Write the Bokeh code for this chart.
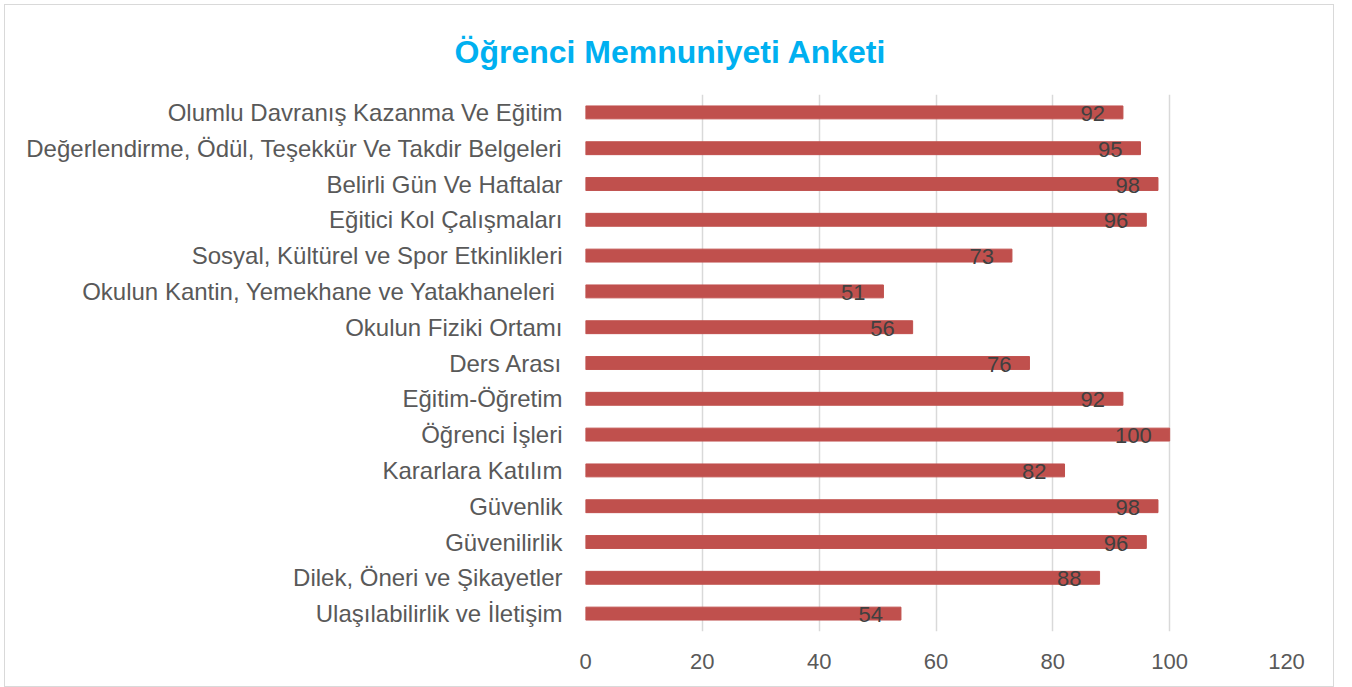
from bokeh.plotting import figure
from bokeh.models import ColumnDataSource, Title, FactorRange, Range1d, SingleIntervalTicker
from bokeh.core.properties import value
from bokeh.embed import file_html
from bokeh.resources import INLINE

categories = [
    "Olumlu Davranış Kazanma Ve Eğitim",
    "Değerlendirme, Ödül, Teşekkür Ve Takdir Belgeleri",
    "Belirli Gün Ve Haftalar",
    "Eğitici Kol Çalışmaları",
    "Sosyal, Kültürel ve Spor Etkinlikleri",
    "Okulun Kantin, Yemekhane ve Yatakhaneleri ",
    "Okulun Fiziki Ortamı",
    "Ders Arası",
    "Eğitim-Öğretim",
    "Öğrenci İşleri",
    "Kararlara Katılım",
    "Güvenlik",
    "Güvenilirlik",
    "Dilek, Öneri ve Şikayetler",
    "Ulaşılabilirlik ve İletişim",
]
values = [92, 95, 98, 96, 73, 51, 56, 76, 92, 100, 82, 98, 96, 88, 54]
title_text = "Öğrenci Memnuniyeti Anketi"

src = ColumnDataSource(dict(cat=categories, val=values, lab=[str(v) for v in values]))

FONT = "Liberation Sans"

p = figure(
    width=1330, height=683,
    y_range=FactorRange(factors=list(reversed(categories)), range_padding=0),
    x_range=Range1d(0, 120),
    output_backend="svg", toolbar_location=None,
    min_border_left=580, min_border_right=49, min_border_top=89, min_border_bottom=57,
)
p.margin = (4, 0, 0, 4)
p.styles = {"border": "1px solid #D9D9D9"}
p.outline_line_color = None

t = Title(text=title_text, align="left", offset=-131,
          text_font=FONT, text_font_size="32px", text_font_style="bold",
          text_color="#00B0F0", standoff=50)
p.add_layout(t, "above")

p.hbar(y="cat", right="val", left=0, height=0.36, color="#C0504D", source=src)

p.text(x="val", y="cat", text="lab", source=src, x_offset=-18, y_offset=1,
       text_align="right", text_baseline="middle",
       text_font_size="22px", text_color="#404040", text_font=value(FONT))

p.xaxis.ticker = SingleIntervalTicker(interval=20)
p.xaxis.axis_line_color = None
p.xaxis.major_tick_line_color = None
p.xaxis.minor_tick_line_color = None
p.xaxis.major_label_text_font = FONT
p.xaxis.major_label_text_font_size = "22px"
p.xaxis.major_label_text_color = "#595959"
p.xaxis.major_label_standoff = 16

p.yaxis.axis_line_color = None
p.yaxis.major_tick_line_color = None
p.yaxis.minor_tick_line_color = None
p.yaxis.major_label_text_font = FONT
p.yaxis.major_label_text_font_size = "24px"
p.yaxis.major_label_text_color = "#595959"
p.yaxis.major_label_standoff = 17

p.ygrid.grid_line_color = None
p.xgrid.grid_line_color = "#D9D9D9"
p.xgrid.grid_line_width = 1.5

open("out.html", "w").write(file_html(p, INLINE))
